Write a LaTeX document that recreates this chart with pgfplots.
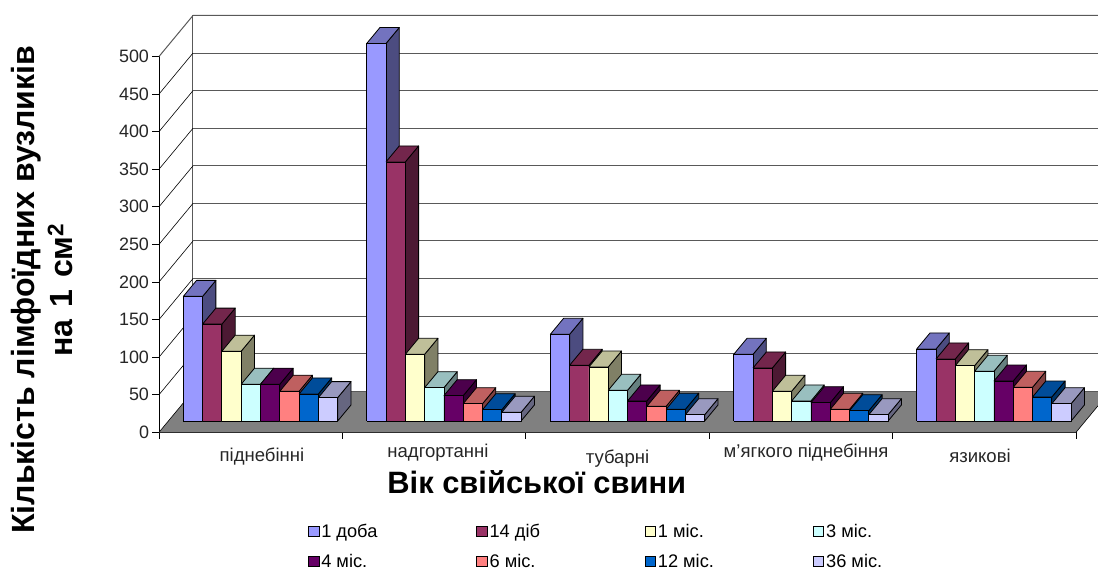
\documentclass[border=0pt]{standalone}
\usepackage{pgfplots}
\pgfplotsset{compat=1.18}
\usepackage{fontspec}
\setmainfont{Liberation Sans}
\definecolor{c1}{HTML}{9999FF}
\definecolor{c2}{HTML}{993366}
\definecolor{c3}{HTML}{FFFFCC}
\definecolor{c4}{HTML}{CCFFFF}
\definecolor{c5}{HTML}{660066}
\definecolor{c6}{HTML}{FF8080}
\definecolor{c7}{HTML}{0066CC}
\definecolor{c8}{HTML}{CCCCFF}
\newcommand\bbar[3]{%
  \pgfmathsetmacro\xb{#1+19.3}%
  \pgfmathsetmacro\xc{#1+32.6}%
  \pgfmathsetmacro\xd{#1+13.3}%
  \pgfmathsetmacro\yt{#2+21.3}%
  \addplot[forget plot,draw=black,line width=.8bp,line join=round,fill=#3!50!black,yshift=11.3bp]
    coordinates {(\xb,0)(\xb,#2)(\xc,\yt)(\xc,21.3)(\xb,0)};
  \addplot[forget plot,draw=black,line width=.8bp,line join=round,fill=#3!75!black,yshift=11.3bp]
    coordinates {(#1,#2)(\xd,\yt)(\xc,\yt)(\xb,#2)(#1,#2)};
  \addplot[forget plot,draw=black,line width=.8bp,line join=round,fill=#3,yshift=11.3bp]
    coordinates {(#1,0)(#1,#2)(\xb,#2)(\xb,0)(#1,0)};
}
\newcommand\gl[1]{%
  \pgfmathsetmacro\yg{#1+54.55}%
  \addplot[forget plot,black,line width=.6bp] coordinates {(159,#1)(193,\yg)};
  \addplot[forget plot,black!65,line width=1bp] coordinates {(193,\yg)(1098,\yg)};
}
\begin{document}
\begin{tikzpicture}[x=1bp,y=1bp]
\useasboundingbox (-159,-139.7) rectangle (939,432.3);
\begin{axis}[
  at={(0,0)},anchor=south west,
  scale only axis,width=917bp,height=375.8bp,
  xmin=159,xmax=1076,ymin=0,ymax=500,clip=false,
  axis x line=bottom,axis y line=left,
  axis line style={-,black,line width=.9bp},
  /pgf/number format/assume math mode=true,
  tick style={black,line width=.8bp},
  major tick length=6.5bp,
  tick align=outside,
  ytick={0,50,...,500},
  xtick={159,342.4,525.8,709.2,892.6,1076},
  xticklabels={},
  extra x ticks={262,438,617.5,806,980},
  extra x tick labels={%
    \raisebox{-1pt}[14pt][0pt]{піднебінні},
    \raisebox{3pt}[14pt][0pt]{надгортанні},
    \raisebox{-3pt}[14pt][0pt]{тубарні},
    \raisebox{3pt}[14pt][0pt]{м’ягкого піднебіння},
    \raisebox{-2pt}[14pt][0pt]{язикові}},
  extra x tick style={major tick length=0pt,tick style={draw=none}},
  ticklabel style={font=\fontsize{18}{21}\selectfont,text=black!85},
  xticklabel style={yshift=-11bp,font=\fontsize{18.6}{21}\selectfont},
  xlabel={Вік свійської свини},
  xlabel style={at={(axis description cs:0.412,-0.132)},anchor=center,font=\fontsize{31}{35}\bfseries\selectfont},
  ylabel={Кількість лімфоїдних вузликів\\на\hspace{3pt} 1\hspace{3pt} см\textsuperscript{2}\hspace{21pt}},
  ylabel style={at={(axis description cs:-0.1276,0.3787)},anchor=center,align=center,font=\fontsize{32.2}{38}\bfseries\selectfont},
  legend columns=4,
  legend cell align=left,
  legend image code/.code={\draw[#1,line width=.8bp] (0bp,-5bp) rectangle (10.5bp,5bp);},
  legend style={at={(axis cs:308,-122)},anchor=north west,draw=none,fill=none,
    inner sep=0pt,outer sep=0pt,row sep=15bp,
    nodes={inner ysep=0pt},
    font=\fontsize{18.3}{21}\selectfont,
    /tikz/every even column/.append style={column sep=9bp}},
]
% floor and walls
\addplot[forget plot,fill=black!50,draw=none] coordinates {(159,0)(1076,0)(1098,35.3)(1098,54.55)(193,54.55)(159,0)};
\addplot[forget plot,black,line width=.6bp] coordinates {(1076,0)(1098,35.3)};
\addplot[forget plot,black,line width=.6bp] coordinates {(159,0)(193,54.55)};
\addplot[forget plot,black!65,line width=1bp] coordinates {(193,54.55)(193,554.55)};
\gl{50}\gl{100}\gl{150}\gl{200}\gl{250}\gl{300}\gl{350}\gl{400}\gl{450}
\addplot[forget plot,black!65,line width=1bp] coordinates {(159,500)(193,554.55)(1098,554.55)};
\addplot[forget plot,black!65,line width=1bp] coordinates {(193,54.55)(1098,54.55)};
% group 1
\bbar{183.3}{165.8}{c1}\bbar{202.6}{128.9}{c2}\bbar{221.9}{92.9}{c3}\bbar{241.2}{48.9}{c4}
\bbar{260.5}{48.9}{c5}\bbar{279.8}{39.6}{c6}\bbar{299.1}{36.0}{c7}\bbar{318.4}{31.1}{c8}
% group 2
\bbar{366.7}{502.3}{c1}\bbar{386.0}{344.7}{c2}\bbar{405.3}{88.7}{c3}\bbar{424.6}{44.3}{c4}
\bbar{443.9}{33.7}{c5}\bbar{463.2}{23.0}{c6}\bbar{482.5}{15.0}{c7}\bbar{501.8}{11.6}{c8}
% group 3
\bbar{550.3}{115.3}{c1}\bbar{569.6}{74.1}{c2}\bbar{588.9}{71.8}{c3}\bbar{608.2}{40.8}{c4}
\bbar{627.5}{26.6}{c5}\bbar{646.8}{19.5}{c6}\bbar{666.1}{15.6}{c7}\bbar{685.4}{8.4}{c8}
% group 4
\bbar{733.7}{88.7}{c1}\bbar{753.0}{70.5}{c2}\bbar{772.3}{39.5}{c3}\bbar{791.6}{26.6}{c4}
\bbar{810.9}{24.3}{c5}\bbar{830.2}{15.5}{c6}\bbar{849.5}{13.7}{c7}\bbar{868.8}{8.4}{c8}
% group 5
\bbar{916.7}{95.8}{c1}\bbar{936.0}{82.5}{c2}\bbar{955.3}{73.6}{c3}\bbar{974.6}{66.1}{c4}
\bbar{993.9}{53.2}{c5}\bbar{1013.2}{44.8}{c6}\bbar{1032.5}{31.9}{c7}\bbar{1051.8}{23.0}{c8}
\addlegendimage{fill=c1,draw=black}\addlegendentry{\makebox[144bp][l]{1 доба}}
\addlegendimage{fill=c2,draw=black}\addlegendentry{\makebox[144bp][l]{14 діб}}
\addlegendimage{fill=c3,draw=black}\addlegendentry{\makebox[144bp][l]{1 міс.}}
\addlegendimage{fill=c4,draw=black}\addlegendentry{\makebox[70bp][l]{3 міс.}}
\addlegendimage{fill=c5,draw=black}\addlegendentry{\makebox[144bp][l]{4 міс.}}
\addlegendimage{fill=c6,draw=black}\addlegendentry{\makebox[144bp][l]{6 міс.}}
\addlegendimage{fill=c7,draw=black}\addlegendentry{\makebox[144bp][l]{12 міс.}}
\addlegendimage{fill=c8,draw=black}\addlegendentry{\makebox[70bp][l]{36 міс.}}
\end{axis}
\end{tikzpicture}
\end{document}
